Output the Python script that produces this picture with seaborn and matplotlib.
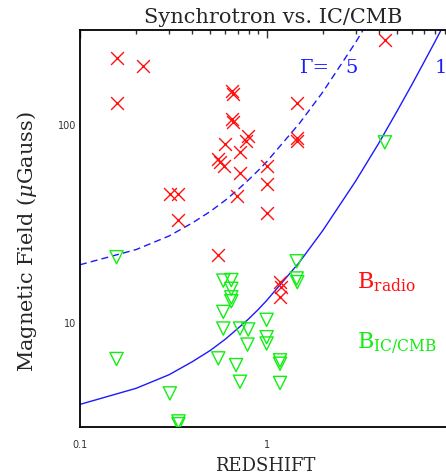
import seaborn as sns
import pandas as pd
import matplotlib
matplotlib.use('Agg')
import matplotlib.pyplot as plt
from matplotlib.ticker import LogLocator, NullFormatter

# radio (equipartition) fields, red crosses
radio_z = [0.157, 0.218, 0.157, 0.65, 0.66, 0.65, 0.66, 0.79, 0.78, 0.60,
           0.72, 0.55, 0.56, 0.59, 0.72, 1.0, 1.0, 1.0, 0.69, 0.303,
           0.337, 0.337, 1.45, 1.45, 1.46, 4.3, 0.55, 1.18, 1.19, 1.18]
radio_b = [218, 198, 129, 148, 142, 107, 103, 88, 83, 80,
           73, 67, 65, 62, 57, 62, 50, 36, 43.5, 45,
           45, 33, 128, 86, 83, 267, 22, 16.1, 15.2, 13.5]

# IC/CMB fields, green triangles
ic_z = [0.157, 0.157, 0.303, 0.337, 0.337, 4.3, 1.45, 1.45, 1.46, 0.586,
        0.647, 0.647, 0.647, 0.647, 0.586, 0.586, 0.72, 0.797, 0.79, 1.0,
        1.0, 1.0, 1.18, 1.18, 1.18, 0.551, 0.686, 0.72]
ic_b = [21.5, 6.6, 4.43, 3.2, 3.1, 81.5, 20.5, 16.8, 16.1, 16.4,
        16.5, 14.9, 13.5, 12.9, 11.4, 9.4, 9.4, 9.3, 7.8, 10.4,
        8.5, 7.9, 6.5, 6.25, 5.0, 6.65, 6.15, 5.07]

# B_CMB curves for Gamma = 1 and Gamma = 5
curve_z = [0.1, 0.2, 0.3, 0.4, 0.5, 0.6, 0.7, 0.8, 0.9, 1.0,
           1.5, 2.0, 3.0, 4.0, 5.0, 6.0, 7.0, 8.0, 9.0, 10.0]
gamma1_b = [3.9, 4.7, 5.5, 6.4, 7.3, 8.3, 9.4, 10.5, 11.7, 13.0,
            20.3, 29.3, 52, 81, 117, 159, 208, 263, 325, 393]
gamma5_b = [19.7, 23.5, 27.5, 32, 36.6, 41.6, 47, 52.7, 58.7, 65,
            101.6, 146, 260, 406, 585, 796, 1040, 1316, 1625, 1966]

radio = pd.DataFrame({'z': radio_z, 'B': radio_b})
ic = pd.DataFrame({'z': ic_z, 'B': ic_b})
curves = pd.DataFrame({'z': curve_z, 'g1': gamma1_b, 'g5': gamma5_b})

sns.set_style('white')
plt.rcParams['mathtext.fontset'] = 'dejavuserif'

fig = plt.figure(figsize=(4.46, 4.76), dpi=100)
# axes run past the right edge of the picture, as in the original crop
ax = fig.add_axes([80/446, 49/476, 390/446, 397/476])

blue = '#1a1aff'
sns.lineplot(curves, x='z', y='g1', color=blue, linewidth=1, estimator=None, ax=ax)
sns.lineplot(curves, x='z', y='g5', color=blue, linewidth=1, estimator=None,
             linestyle=(0, (5, 3)), ax=ax)
sns.scatterplot(radio, x='z', y='B', marker='x', color='#ff1010', s=85, linewidth=1, ax=ax, zorder=3)
sns.scatterplot(ic, x='z', y='B', marker='v', s=90, facecolors='none', edgecolor='#11ee11',
                linewidth=1, ax=ax, zorder=3)

ax.set_xscale('log')
ax.set_yscale('log')
ax.set_xlim(0.1, 12.3)
ax.set_ylim(3, 300)

ax.set_xticks([0.1, 1, 10])
ax.set_xticklabels(['0.1', '1', ''])
ax.set_yticks([10, 100])
ax.set_yticklabels(['10', '100'])
ax.xaxis.set_minor_locator(LogLocator(base=10, subs=range(2, 10)))
ax.yaxis.set_minor_locator(LogLocator(base=10, subs=range(2, 10)))
ax.xaxis.set_minor_formatter(NullFormatter())
ax.yaxis.set_minor_formatter(NullFormatter())
ax.tick_params(which='both', direction='in', top=True, right=True, color='#333333', width=1)
ax.tick_params(which='major', length=6, labelsize=7, labelcolor='#333333')
ax.tick_params(which='minor', length=3)
ax.tick_params(axis='x', which='major', pad=9)
ax.tick_params(axis='y', which='major', pad=3)
for s in ax.spines.values():
    s.set_linewidth(1.3)
    s.set_color('black')

serif = 'DejaVu Serif'
ax.set_title('Synchrotron vs. IC/CMB', family=serif, fontsize=15, x=0.495, pad=5)
ax.set_xlabel('REDSHIFT', family=serif, fontsize=13)
ax.xaxis.set_label_coords(0.474, -0.075)
ax.set_ylabel(r'Magnetic Field ($\mu$Gauss)', family=serif, fontsize=15)
ax.yaxis.set_label_coords(-0.105, 0.466)

ax.text(0.565, 0.904, '\u0393=', transform=ax.transAxes, color=blue, family=serif,
        fontsize=14, va='center')
ax.text(0.68, 0.904, '5', transform=ax.transAxes, color=blue, family=serif,
        fontsize=14, va='center')
ax.text(0.91, 0.904, '1', transform=ax.transAxes, color=blue, family=serif,
        fontsize=14, va='center')
ax.text(0.71, 0.35, r'B$_{\mathrm{radio}}$', transform=ax.transAxes, color='#ff1010',
        family=serif, fontsize=16, va='baseline')
ax.text(0.71, 0.199, r'B$_{\mathrm{IC/CMB}}$', transform=ax.transAxes, color='#11ee11',
        family=serif, fontsize=16, va='baseline')

fig.savefig('out.png', dpi=100)
